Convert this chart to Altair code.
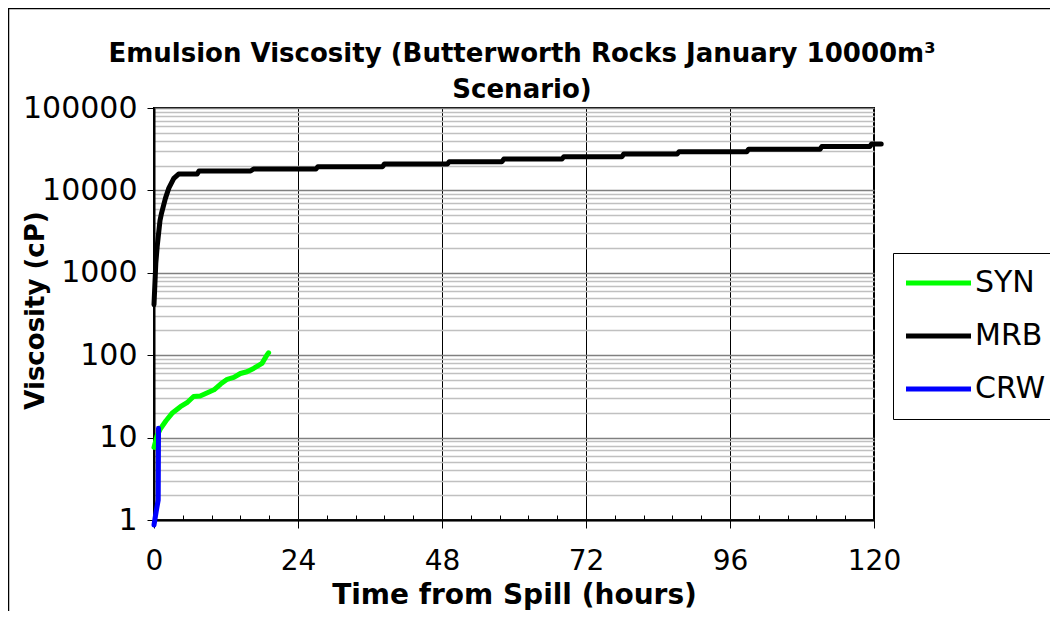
import altair as alt
import pandas as pd

FONT = "DejaVu Sans"

series_names = ["SYN", "MRB", "CRW"]
series_colors = ["#00FF00", "#000000", "#0000FF"]

syn_hours = [0.0, 0.5, 1.1, 2.0, 3.0, 4.4, 5.5, 6.6, 7.7, 8.9, 10.0, 11.1, 12.2, 13.3, 14.4, 15.5, 16.6, 18.0, 18.8, 19.1]
syn_visc = [7.6, 10.5, 12.9, 16.0, 19.7, 23.7, 26.5, 31.5, 32.0, 35.0, 38.0, 44.7, 51.0, 53.8, 60.0, 63.0, 69.0, 79.6, 100, 107]

mrb_hours = [0.0, 0.3, 0.53, 1.0, 1.25, 1.9, 2.47, 3.3, 4.1, 7.2, 7.5, 16.1, 16.6, 27.0, 27.3,
             38.1, 38.4, 48.9, 49.2, 58.0, 58.3, 68.0, 68.3, 78.0, 78.3, 87.2, 87.5, 98.8, 99.1,
             111.0, 111.3, 119.3, 119.6, 121.2]
mrb_visc = [410, 1300, 2080, 4300, 5270, 8000, 10650, 14000, 15800, 15800, 17200, 17200, 18200, 18200, 19400,
            19400, 20900, 20900, 22300, 22300, 24000, 24000, 25600, 25600, 27700, 27700, 29500, 29500, 31600,
            31600, 34000, 34000, 36600, 36600]

crw_hours = [0.0, 0.35, 0.7, 0.75]
crw_visc = [0.87, 1.25, 1.75, 13.0]

x_major = [0, 24, 48, 72, 96, 120]
x_minor = [4.8, 9.6, 14.4, 19.2, 28.8, 33.6, 38.4, 43.2, 52.8, 57.6, 62.4, 67.2,
           76.8, 81.6, 86.4, 91.2, 100.8, 105.6, 110.4, 115.2]
y_decades = [1, 10, 100, 1000, 10000, 100000]
y_grid = [m * d for d in y_decades[:-1] for m in range(1, 10)] + [100000]

rows = []
for name, hs, vs in [("SYN", syn_hours, syn_visc), ("MRB", mrb_hours, mrb_visc), ("CRW", crw_hours, crw_visc)]:
    for i, (h, v) in enumerate(zip(hs, vs)):
        rows.append({"series": name, "hours": h, "visc": v, "idx": i})
df = pd.DataFrame(rows)

x_scale = alt.Scale(domain=[0, 120], nice=False, zero=False)
y_scale = alt.Scale(type="log", domain=[1, 100000], nice=False)

decade_test = "indexof([1,10,100,1000,10000,100000], datum.value) >= 0"

border = alt.Chart(pd.DataFrame({"k": [0]})).mark_rect(
    fillOpacity=0, stroke="#000000", strokeWidth=1.5
).encode(
    x=alt.value(-145.5), x2=alt.value(2000), y=alt.value(-99.5), y2=alt.value(2000)
)

lines = alt.Chart(df).mark_line(strokeWidth=5, strokeJoin="round", strokeCap="round").encode(
    x=alt.X("hours:Q", scale=x_scale, axis=alt.Axis(
        values=x_major, title="Time from Spill (hours)", grid=True, gridColor="#000000", gridWidth=1,
        tickSize=8, tickColor="#000000", tickWidth=1, domainColor="#000000", domainWidth=2,
        labelFont=FONT, labelFontSize=28, labelColor="#000000", labelPadding=19, labelFlush=False,
        labelOverlap=False, titleFont=FONT, titleFontSize=28, titleFontWeight="bold", titleColor="#000000",
        titleX=360, titleY=75, titleBaseline="middle", titleAlign="center")),
    y=alt.Y("visc:Q", scale=y_scale, axis=alt.Axis(
        values=y_grid,
        labelExpr="indexof([1,10,100,1000,10000,100000], datum.value) >= 0 ? format(datum.value, 'd') : ''",
        grid=True,
        gridColor=alt.condition(decade_test, alt.value("#808080"), alt.value("#c0c0c0")),
        gridWidth=1.5,
        tickSize=alt.condition(decade_test, alt.value(7), alt.value(0)),
        tickColor="#000000", tickWidth=1, domainColor="#000000", domainWidth=2,
        labelFont=FONT, labelFontSize=30, labelColor="#000000", labelPadding=10,
        labelOverlap=False, labelFlush=False,
        title="Viscosity (cP)", titleFont=FONT, titleFontSize=26, titleFontWeight="bold", titleColor="#000000",
        titleAngle=270, titleX=-119, titleY=202, titleBaseline="middle", titleAlign="center")),
    color=alt.Color("series:N", scale=alt.Scale(domain=series_names, range=series_colors),
                    legend=alt.Legend(orient="none", legendX=739, legendY=145, title=None,
                                      symbolType="M-1.7,0H4.8", symbolSize=400, symbolStrokeWidth=5,
                                      labelFont=FONT, labelFontSize=30, labelColor="#000000",
                                      strokeColor="#000000", fillColor="#ffffff", padding=15,
                                      rowPadding=23, labelOffset=37)),
    order="idx:Q",
)

minor = alt.Chart(df).mark_line(opacity=0).encode(
    x=alt.X("hours:Q", scale=x_scale, axis=alt.Axis(
        orient="top", offset=-412, values=x_minor, labels=False, domain=False, grid=False,
        ticks=True, tickSize=5, tickColor="#000000", tickWidth=1, title=None)),
    y=alt.Y("visc:Q", scale=y_scale, axis=None),
)

chart = alt.layer(border, lines, minor).resolve_axis(x="independent", y="independent").properties(
    width=720, height=412,
    padding={"left": 146, "top": 100, "right": 176, "bottom": 91},
    autosize=alt.AutoSizeParams(type="none"),
    title=alt.TitleParams(
        text=["Emulsion Viscosity (Butterworth Rocks January 10000m³", "Scenario)"],
        font=FONT, fontSize=26, fontWeight="bold", color="#000000", anchor="middle",
        baseline="alphabetic", offset=-116, lineHeight=36, dx=8),
    background="#ffffff",
).configure_view(stroke="#000000", strokeWidth=2)

chart.save("out.html", embed_options={"renderer": "svg", "actions": False})
